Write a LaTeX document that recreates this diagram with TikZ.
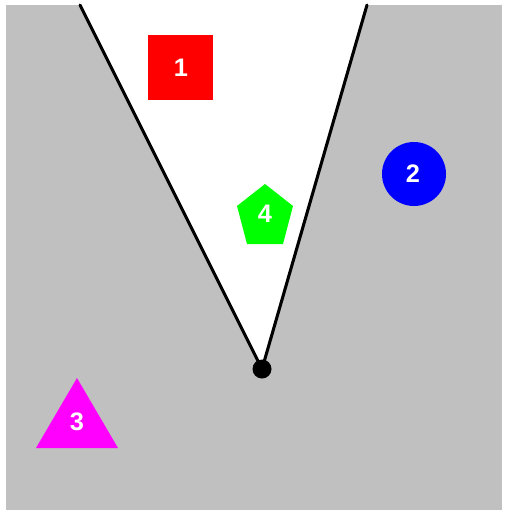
\documentclass[tikz,border=0pt]{standalone}
\usepackage{fontspec}
\setmainfont{Liberation Sans}
\definecolor{bggray}{RGB}{192,192,192}
\definecolor{sqred}{RGB}{255,0,0}
\definecolor{cblue}{RGB}{0,0,255}
\definecolor{tmag}{RGB}{255,0,255}
\definecolor{pgreen}{RGB}{0,255,0}
\begin{document}
\begin{tikzpicture}[x=0.75pt,y=-0.75pt,
  lbl/.style={text=white,font=\bfseries\fontsize{19}{19}\selectfont,inner sep=0pt},
  ray/.style={line width=2.3pt,line cap=round}]
\useasboundingbox (0,0) rectangle (509,514);
\fill[white] (0,0) rectangle (509,514);
\fill[bggray] (6,5) rectangle (502,510);
% visible wedge
\coordinate (apex) at (262,369);
\coordinate (ltop) at (80,5);
\coordinate (rtop) at (367,5);
\fill[white] (ltop) -- (apex) -- (rtop) -- cycle;
% shapes
\fill[sqred] (148,35) rectangle (213,100);
\node[lbl] (l1) at (181,68) {1};
\fill[cblue] (414,174) circle[radius=32];
\node[lbl] (l2) at (413,174) {2};
\fill[tmag] (77,378) -- (118,448) -- (36,448) -- cycle;
\node[lbl] (l3) at (77,422) {3};
\fill[pgreen] (265,184) -- (293,206) -- (283,244) -- (247,244) -- (237,206) -- cycle;
\node[lbl] (l4) at (265,214) {4};
% rays
\draw[ray] (ltop) -- (apex) -- (rtop);
\fill[black] (apex) circle[radius=9.5];
\end{tikzpicture}
\end{document}
